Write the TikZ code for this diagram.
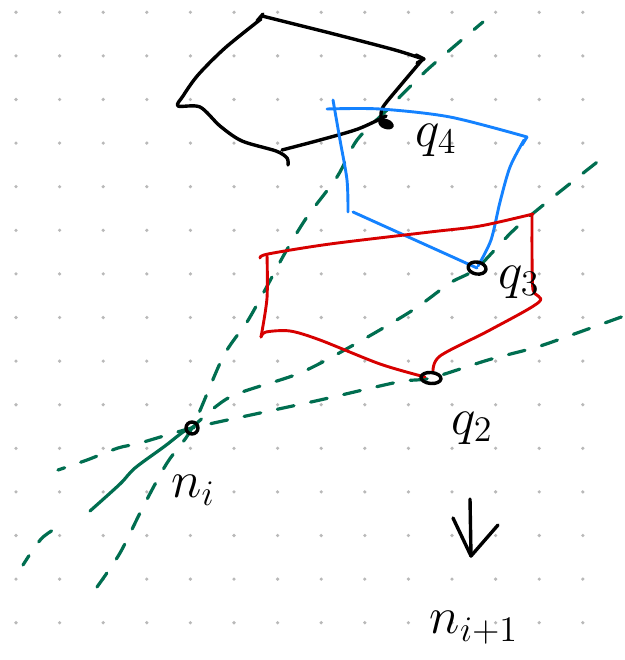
\documentclass[tikz,border=0pt]{standalone}
\usepackage{graphicx}
\usepackage{tikz}
\definecolor{gdot}{RGB}{185,185,185}
\definecolor{pblue}{RGB}{20,130,255}
\definecolor{pred}{RGB}{215,0,0}
\definecolor{pgreen}{RGB}{0,110,80}
\newcommand{\biglab}[1]{\scalebox{2.5}{\huge #1}}
\tikzset{
  ink/.style={line width=3.4pt, line cap=round, line join=round},
  blk/.style={ink, black},
  blu/.style={ink, pblue, line width=2.9pt},
  rd/.style={ink, pred, line width=2.9pt},
  grn/.style={ink, pgreen, line width=3.2pt},
  gdash/.style={grn, dash pattern=on 17pt off 17pt},
  lab/.style={inner sep=0pt},
  gdotstyle/.style={fill=gdot, draw=none}
}
\begin{document}
\begin{tikzpicture}[x=1pt,y=-1pt]
\useasboundingbox (0,0) rectangle (624,660);
\fill[white] (0,0) rectangle (624,660);
% dot grid
\foreach \i in {0,...,13}{
  \foreach \j in {0,...,14}{
    \fill[gdotstyle] ({16+43.6*\i},{12.3+43.6*\j}) circle (1.8pt);
  }
}
% key points
\coordinate (q4) at (386,124);
\coordinate (q3) at (477,268);
\coordinate (q2) at (431,378);
\coordinate (ni) at (192,428);

% green lines
\draw[gdash] plot[smooth] coordinates {(97,587) (120,553) (143,507) (167,463) (ni) (223,357) (247,322) (265,290) (285,253) (307,217) (337,177) (357,140) (387,110) (427,70) (483,22)};
\draw[gdash, dash phase=6pt] plot[smooth] coordinates {(23,565) (42,538) (65,523)};
\draw[grn] plot[smooth] coordinates {(90,511) (120,484) (135,468) (165,446) (183,432) (ni)};
\draw[gdash, dash phase=4pt] plot[smooth] coordinates {(ni) (230,397) (300,373) (357,343) (413,310) (450,283) (q3) (517,227) (577,178) (605,156)};
\draw[gdash, dash phase=10pt] plot[smooth] coordinates {(58,470) (87,460) (118,448) (140,443) (ni) (260,413) (320,400) (398,382) (q2) (488,360) (537,347) (577,333) (624,316)};

% black quadrilateral
\draw[blk] plot[smooth] coordinates {(262,16) (330,33) (395,50) (423,59)};
\draw[blk] (416,55) -- (424,59) -- (417,63);
\draw[blk] (257,21) -- (263,14);
\draw[blk] plot[smooth] coordinates {(422,60) (400,86) (383,107) (381,117)};
\draw[blk] plot[smooth] coordinates {(261,19) (225,48) (198,75) (183,96) (178,106) (200,107) (220,126) (242,141) (276,151) (287,158) (288,165)};
\draw[blk] plot[smooth] coordinates {(282,150) (320,140) (358,129) (386,116)};

% blue quadrilateral
\draw[blu] plot[smooth] coordinates {(327,109) (380,109) (450,117) (527,137)};
\draw[blu] (527,137) -- (522,145);
\draw[blu] plot[smooth] coordinates {(333,100) (340,140) (347,180) (348,212)};
\draw[blu] (353,212) -- (q3);
\draw[blu] plot[smooth] coordinates {(524,140) (510,167) (500,202) (491,240) (478,266)};

% red quadrilateral
\draw[rd] plot[smooth] coordinates {(260,258) (268,254) (330,244) (430,232) (480,226) (533,214)};
\draw[rd] plot[smooth] coordinates {(267,255) (267,298) (261,337)};
\draw[rd] plot[smooth] coordinates {(261,337) (266,332) (290,331) (320,340) (380,364) (425,377)};
\draw[rd] plot[smooth] coordinates {(532,214) (532,255) (533,290) (539,302) (490,330) (440,356) (433,372)};

% point markers
\fill[black, rotate around={-20:(q4)}] (q4) ellipse (8pt and 5pt);
\draw[blk, rotate around={-10:(q3)}] (q3) ellipse (9pt and 6pt);
\draw[blk, rotate around={-5:(q2)}] (q2) ellipse (10pt and 5.5pt);
\draw[blk] (ni) circle (6pt);

% labels
\node[lab] (q4lab) at (436,140) {\biglab{$q_4$}};
\node[lab] (q3lab) at (519,282) {\biglab{$q_3$}};
\node[lab] (q2lab) at (472,428) {\biglab{$q_2$}};
\node[lab] (nilab) at (193,490) {\biglab{$n_i$}};
\node[lab] (nnlab) at (474,628) {\biglab{$n_{i+1}$}};

% arrow
\coordinate (atop) at (470,499);
\coordinate (atip) at (471,556);
\draw[blk] (atop) -- (atip);
\draw[blk] (453,518) -- (atip) -- (498,525);
\end{tikzpicture}
\end{document}
